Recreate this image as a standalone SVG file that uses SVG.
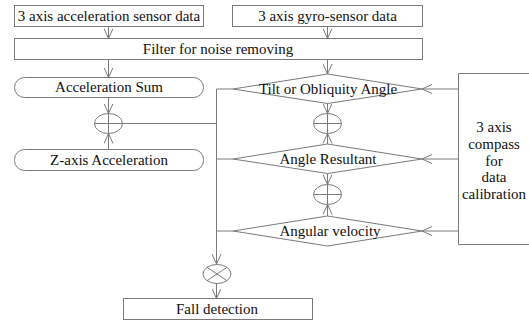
<svg xmlns="http://www.w3.org/2000/svg" width="529" height="321" viewBox="0 0 529 321">
<style>
.s{fill:#fff;stroke:#7a7a7a;stroke-width:1}
.l{fill:none;stroke:#7a7a7a;stroke-width:1}
.t{font-family:"Liberation Serif","DejaVu Serif",serif;font-size:15px;fill:#111;text-anchor:middle}
</style>
<defs>
<marker id="a" viewBox="0 0 10 10" refX="10" refY="5" markerWidth="10" markerHeight="10" markerUnits="userSpaceOnUse" orient="auto">
<path d="M0,0.5 L10,5 L0,9.5" fill="none" stroke="#7a7a7a" stroke-width="1"/>
</marker>
</defs>
<g id="n-acc"><rect class="s" x="14.5" y="5.5" width="189" height="21"/><text class="t" x="109" y="21">3 axis acceleration sensor data</text></g>
<g id="n-gyro"><rect class="s" x="232.5" y="5.5" width="190" height="21"/><text class="t" x="327.5" y="21">3 axis gyro-sensor data</text></g>
<g id="n-filter"><rect class="s" x="14.5" y="38.5" width="408" height="21"/><text class="t" x="218" y="54">Filter for noise removing</text></g>
<g id="n-accsum"><rect class="s" x="14.5" y="77.5" width="189" height="20" rx="10" ry="10"/><text class="t" x="109" y="92">Acceleration Sum</text></g>
<g id="n-plus1"><ellipse class="s" cx="108.5" cy="123.5" rx="14" ry="10"/><path class="l" d="M94.5,123.5H122.5M108.5,113.5V133.5"/></g>
<g id="n-zacc"><rect class="s" x="14.5" y="149.5" width="189" height="21" rx="10" ry="10"/><text class="t" x="109" y="165">Z-axis Acceleration</text></g>
<g id="n-tilt"><path class="s" d="M233,89 L327.5,74 L422,89 L327.5,103.5 Z"/><text class="t" x="328" y="94">Tilt or Obliquity Angle</text></g>
<g id="n-plus2"><ellipse class="s" cx="327.5" cy="123.5" rx="14" ry="10"/><path class="l" d="M313.5,123.5H341.5M327.5,113.5V133.5"/></g>
<g id="n-res"><path class="s" d="M233,159 L327.5,144 L422,159 L327.5,173.5 Z"/><text class="t" x="328" y="164">Angle Resultant</text></g>
<g id="n-plus3"><ellipse class="s" cx="327.5" cy="194.5" rx="14" ry="10"/><path class="l" d="M313.5,194.5H341.5M327.5,184.5V204.5"/></g>
<g id="n-angvel"><path class="s" d="M233,231 L327.5,216 L422,231 L327.5,246 Z"/><text class="t" x="330" y="236">Angular velocity</text></g>
<g id="n-compass"><path class="s" d="M529,73.5 H458.5 V244.5 H529"/>
<text class="t" x="494" y="132">3 axis</text><text class="t" x="494" y="149">compass</text><text class="t" x="494" y="166">for</text><text class="t" x="494" y="182">data</text><text class="t" x="494" y="199">calibration</text></g>
<g id="n-cross"><ellipse class="s" cx="217" cy="274" rx="14" ry="9.5"/><path class="l" d="M207,267.3L227,280.7M207,280.7L227,267.3"/></g>
<g id="n-fall"><rect class="s" x="123.5" y="298.5" width="189" height="21"/><text class="t" x="217" y="314">Fall detection</text></g>
<g id="connectors" class="l">
<path class="l" d="M108.5,26.5V38.5" marker-end="url(#a)"/>
<path class="l" d="M327.5,26.5V38.5" marker-end="url(#a)"/>
<path class="l" d="M108.5,59.5V77.5" marker-end="url(#a)"/>
<path class="l" d="M327.5,59.5V74" marker-end="url(#a)"/>
<path class="l" d="M108.5,97.5V113.5" marker-end="url(#a)"/>
<path class="l" d="M108.5,149.5V133.5" marker-end="url(#a)"/>
<path class="l" d="M122.5,123.5H216.5"/>
<path class="l" d="M216.5,89V264" marker-end="url(#a)"/>
<path class="l" d="M216.5,89H233"/>
<path class="l" d="M216.5,159H233"/>
<path class="l" d="M216.5,231H233"/>
<path class="l" d="M327.5,103.5V113.5" marker-end="url(#a)"/>
<path class="l" d="M327.5,144V133.5" marker-end="url(#a)"/>
<path class="l" d="M327.5,173.5V184.5" marker-end="url(#a)"/>
<path class="l" d="M327.5,216V204.5" marker-end="url(#a)"/>
<path class="l" d="M458.5,89H422" marker-end="url(#a)"/>
<path class="l" d="M458.5,159H422" marker-end="url(#a)"/>
<path class="l" d="M458.5,231H422" marker-end="url(#a)"/>
<path class="l" d="M216.5,283.5V298.5" marker-end="url(#a)"/>
</g>
</svg>
